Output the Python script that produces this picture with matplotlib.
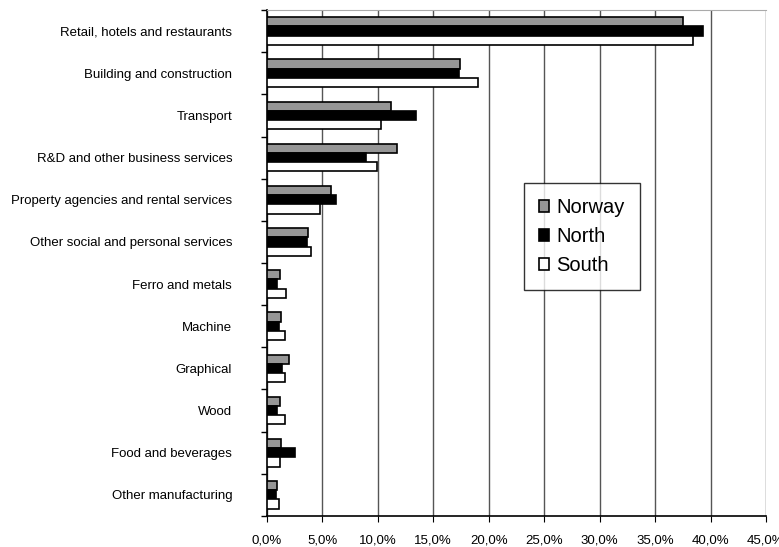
import numpy as np
import matplotlib
matplotlib.use("Agg")
import matplotlib.pyplot as plt
from matplotlib.ticker import FuncFormatter, FixedLocator

categories = [
    "Retail, hotels and restaurants",
    "Building and construction",
    "Transport",
    "R&D and other business services",
    "Property agencies and rental services",
    "Other social and personal services",
    "Ferro and metals",
    "Machine",
    "Graphical",
    "Wood",
    "Food and beverages",
    "Other manufacturing",
]
norway = [37.5, 17.4, 11.2, 11.7, 5.8, 3.7, 1.2, 1.3, 2.0, 1.2, 1.3, 0.9]
north = [39.3, 17.3, 13.4, 8.9, 6.2, 3.6, 0.9, 1.05, 1.35, 0.9, 2.55, 0.8]
south = [38.4, 19.0, 10.3, 9.9, 4.8, 4.0, 1.7, 1.6, 1.6, 1.6, 1.2, 1.05]

plt.rcParams['font.family'] = ['Liberation Sans', 'DejaVu Sans']

fig = plt.figure(figsize=(7.79, 5.47), dpi=100)
ax = fig.add_axes([0.3427, 0.0567, 0.6406, 0.925])

n = len(categories)
y = np.arange(n)
h = 0.218
ax.barh(y - h, norway, height=h, color="#969696", edgecolor="black", linewidth=1.2, label="Norway", zorder=3)
ax.barh(y, north, height=h, color="black", edgecolor="black", linewidth=1.2, label="North", zorder=3)
ax.barh(y + h, south, height=h, color="white", edgecolor="black", linewidth=1.2, label="South", zorder=3)

ax.set_ylim(n - 0.5, -0.5)
ax.set_xlim(0, 45)
ax.set_xticks(np.arange(0, 46, 5))
ax.xaxis.set_major_formatter(FuncFormatter(lambda v, p: f"{v:.1f}%".replace(".", ",")))
ax.grid(axis="x", color="#555555", linewidth=1.0, zorder=0)

ax.set_yticks(y)
ax.set_yticklabels(categories, fontsize=9.5)
ax.yaxis.set_minor_locator(FixedLocator(np.arange(-0.5, n, 1)))
ax.tick_params(axis="y", which="major", length=0, pad=25)
ax.tick_params(axis="y", which="minor", length=4, width=1)
ax.tick_params(axis="x", length=4, labelsize=9.5, pad=9)

ax.spines["right"].set_visible(False)
ax.spines["top"].set_color("#aaaaaa")
ax.spines["left"].set_linewidth(1.2)
ax.spines["bottom"].set_linewidth(1.2)

leg = ax.legend(loc="upper left", bbox_to_anchor=(0.515, 0.658), frameon=True, fancybox=False,
                edgecolor="black", fontsize=14.5, handlelength=0.5, handleheight=0.5,
                handletextpad=0.35, labelspacing=0.5, borderpad=0.75, borderaxespad=0)
leg.get_frame().set_linewidth(1.0)

fig.savefig("out.png", dpi=100)
